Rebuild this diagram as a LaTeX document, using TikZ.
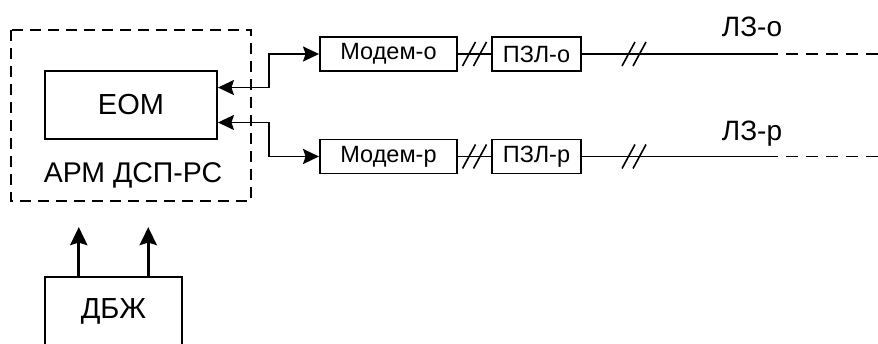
\documentclass[tikz,border=0pt]{standalone}
\usepackage{fontspec}
\setmainfont{Liberation Sans}
\usetikzlibrary{arrows.meta,calc}
\begin{document}
\begin{tikzpicture}[x=1pt,y=-1pt,
  box/.style={draw,line width=1.9pt,inner sep=0pt},
  conn/.style={line width=1.8pt},
  biarr/.style={line width=1.8pt,{Stealth[length=16pt,width=15pt,inset=2.5pt]}-{Stealth[length=16pt,width=15pt,inset=2.5pt]}},
  uparr/.style={line width=3.2pt,-{Stealth[length=18pt,width=17pt,inset=2.5pt]}},
  dbox/.style={draw,line width=1.8pt,dash pattern=on 11pt off 7pt},
  dline/.style={line width=1.8pt,dash pattern=on 12pt off 8pt},
  dslash/.pic={\draw[line width=1.6pt] (-12,12) -- (1,-12); \draw[line width=1.6pt] (-1,12) -- (12,-12);}
]
\useasboundingbox (0,0) rectangle (878,343);
\clip (0,0) rectangle (878,343);
\fill[white] (0,0) rectangle (878,343);

% dashed workstation frame
\draw[dbox] (10.7,30) rectangle (251,200.7);
\node[anchor=base,font=\fontsize{28.5}{32}\selectfont] (arm) at (133,182) {АРМ ДСП-РС};

\node[box,minimum width=172pt,minimum height=68pt,font=\fontsize{29}{32}\selectfont] (eom) at (131,105) {ЕОМ};

\node[box,minimum width=137pt,minimum height=34pt,font=\fontsize{23.5}{26}\selectfont] (modo) at (388.5,54) {Модем-о};
\node[box,minimum width=137pt,minimum height=34pt,font=\fontsize{23.5}{26}\selectfont] (modp) at (388.5,156.5) {Модем-р};
\node[box,minimum width=89pt,minimum height=34pt,font=\fontsize{23.5}{26}\selectfont] (pzlo) at (536.5,54) {ПЗЛ-о};
\node[box,minimum width=89pt,minimum height=34pt,font=\fontsize{23.5}{26}\selectfont] (pzlp) at (536.5,156.5) {ПЗЛ-р};

\node[box,minimum width=137pt,minimum height=68pt,font=\fontsize{29}{32}\selectfont] (dbzh) at (113.5,311) {ДБЖ};

% EOM <-> modems
\draw[biarr] ($(eom.north east)!0.25!(eom.south east)$) -- ++(51,0) |- (modo.west);
\draw[biarr] ($(eom.north east)!0.75!(eom.south east)$) -- ++(51,0) |- (modp.west);

% modem -- PZL
\draw[conn] (modo.east) -- (pzlo.west);
\draw[conn] (modp.east) -- (pzlp.west);
\pic at ($(modo.east)!0.5!(pzlo.west)$) {dslash};
\pic at ($(modp.east)!0.5!(pzlp.west)$) {dslash};

% lines to LZ
\coordinate (lzoa) at (766,54);
\coordinate (lzob) at (890,54);
\coordinate (lzpa) at (766,156.5);
\coordinate (lzpb) at (890,156.5);
\draw[conn] (pzlo.east) -- (lzoa);
\draw[dline] (lzoa) -- (lzob);
\draw[conn] (pzlp.east) -- (lzpa);
\draw[dline] (lzpa) -- (lzpb);
\pic at (634,54) {dslash};
\pic at (634,156.5) {dslash};
\node[anchor=base,font=\fontsize{28}{32}\selectfont] (lzo) at (752,36.7) {ЛЗ-о};
\node[anchor=base,font=\fontsize{28}{32}\selectfont] (lzp) at (752,140) {ЛЗ-р};

% DBZh arrows
\draw[uparr] ($(dbzh.north west)!0.25!(dbzh.north east)$) -- ++(0,-49);
\draw[uparr] ($(dbzh.north west)!0.75!(dbzh.north east)$) -- ++(0,-49);
\end{tikzpicture}
\end{document}
